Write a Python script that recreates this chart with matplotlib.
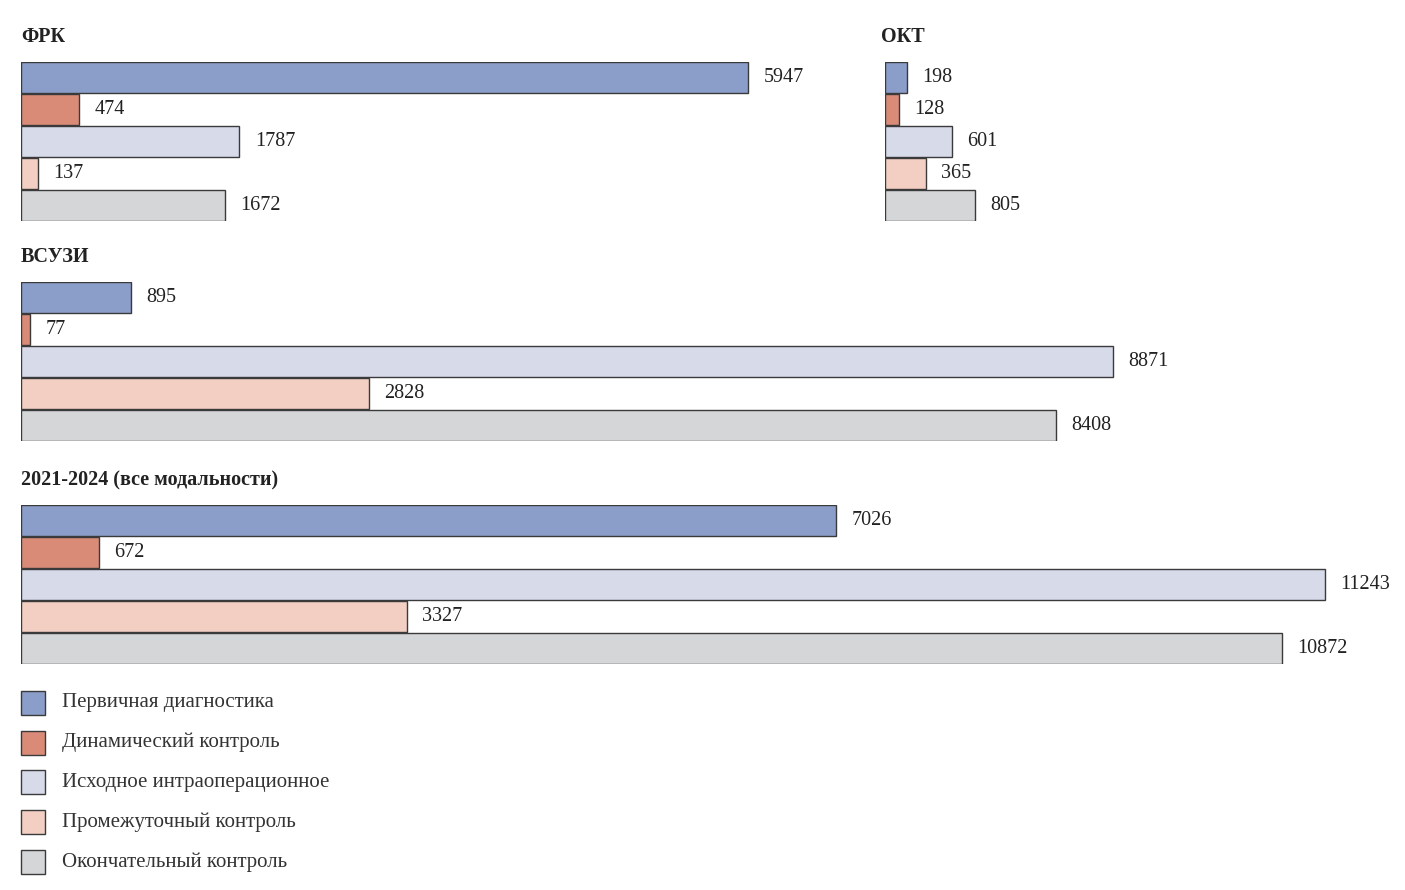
import matplotlib.pyplot as plt
from matplotlib.patches import Rectangle

plt.rcParams['font.family'] = ['Liberation Serif', 'DejaVu Serif']

categories = ['Первичная диагностика', 'Динамический контроль', 'Исходное интраоперационное',
              'Промежуточный контроль', 'Окончательный контроль']
colors = ['#8b9dc9', '#d98b77', '#d6dae9', '#f2cfc2', '#d5d6d8']

frk = [5947, 474, 1787, 137, 1672]
okt = [198, 128, 601, 365, 805]
vsuzi = [895, 77, 8871, 2828, 8408]
total = [7026, 672, 11243, 3327, 10872]

W, H = 1405, 890
fig = plt.figure(figsize=(W / 100, H / 100), dpi=100)

# (title, values, left px, top px, bottom px, px per unit, title x)
panels = [
    ('ФРК', frk, 21, 62, 221, 727 / 5947, 21),
    ('ОКТ', okt, 885, 62, 221, 90 / 805, 881),
    ('ВСУЗИ', vsuzi, 21, 282, 441, 1092 / 8871, 21),
    ('2021-2024 (все модальности)', total, 21, 505, 664, 1304 / 11243, 21),
]

for title, vals, left, top, bot, scale, tx in panels:
    wpx = W - left - 5
    ax = fig.add_axes([left / W, 1 - bot / H, wpx / W, (bot - top) / H])
    ax.set_xlim(0, wpx / scale)
    ax.set_ylim(4.5, -0.5)
    ax.barh(range(5), vals, height=0.97, color=colors, edgecolor='#3a3a3a', linewidth=1)
    for i, v in enumerate(vals):
        ax.annotate(str(v), (v, i), xytext=(11, 0), textcoords='offset points',
                    va='center', ha='left', fontsize=14.5, color='#222')
    ax.axis('off')
    fig.text(tx / W, 1 - (top - 25) / H, title, fontsize=14.5, fontweight='bold',
             va='center', ha='left', color='#222')

# legend
lax = fig.add_axes([0, 0, 1, 1])
lax.set_xlim(0, W)
lax.set_ylim(H, 0)
lax.axis('off')
for i, (c, lab) in enumerate(zip(colors, categories)):
    y = 703 + i * 39.7
    lax.add_patch(Rectangle((21, y - 12), 24, 24, facecolor=c, edgecolor='#3a3a3a', linewidth=1))
    lax.text(62, y, lab, fontsize=15, va='center', ha='left', color='#333')

fig.savefig('out.png', dpi=100)
